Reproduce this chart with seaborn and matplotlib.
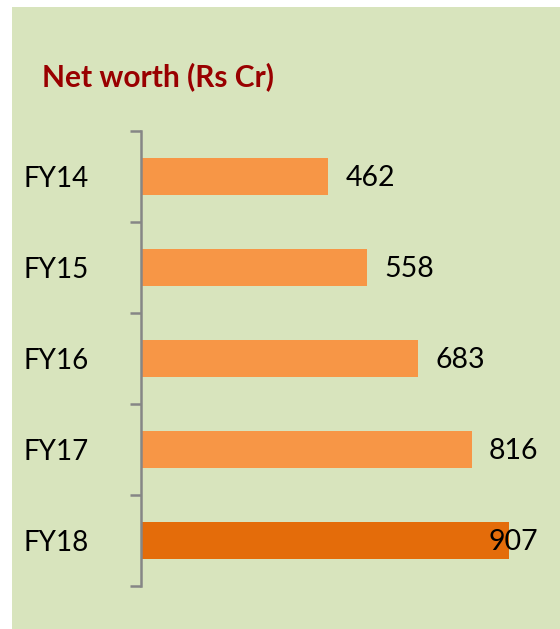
import matplotlib
matplotlib.use("Agg")
import matplotlib.pyplot as plt
from matplotlib.patches import Rectangle
import seaborn as sns
import pandas as pd

# Net worth by fiscal year (Rs Cr)
years = ["FY14", "FY15", "FY16", "FY17", "FY18"]
net_worth = [462, 558, 683, 816, 907]
bar_colors = ["#F79646", "#F79646", "#F79646", "#F79646", "#E46C0A"]
title = "Net worth (Rs Cr)"

df = pd.DataFrame({"year": years, "net_worth": net_worth})

sns.set_theme(style="white")
plt.rcParams["font.family"] = ["Lato", "DejaVu Sans"]

W, H = 560, 629
fig = plt.figure(figsize=(W / 100, H / 100), dpi=100, facecolor="white")

# light green panel behind the chart
fig.patches.append(Rectangle((12 / W, 0), 1 - 12 / W, 1 - 7 / H,
                             transform=fig.transFigure, facecolor="#D8E4BD",
                             edgecolor="none", zorder=-10))

xmax = 1000
ax = fig.add_axes([141 / W, 43 / H, 405.7 / W, 455 / H])
ax.set_facecolor("none")
ax.set_zorder(1)

sns.barplot(data=df, y="year", x="net_worth", hue="year", palette=bar_colors,
            orient="h", width=0.4, legend=False, ax=ax, saturation=1,
            linewidth=0)

ax.set_xlim(0, xmax)
ax.set_ylim(len(years) - 0.5, -0.5)
ax.set_xlabel("")
ax.set_ylabel("")
ax.set_xticks([])

for side in ["top", "right", "bottom"]:
    ax.spines[side].set_visible(False)
ax.spines["left"].set_color("#868686")
ax.spines["left"].set_linewidth(1.8)

# category labels, with tick marks between categories
ax.set_yticks(range(len(years)))
ax.set_yticklabels(years, fontsize=20, color="black")
ax.tick_params(axis="y", which="major", length=0, pad=37.5)
ax.set_yticks([i - 0.5 for i in range(len(years) + 1)], minor=True)
ax.tick_params(axis="y", which="minor", length=8, width=1.8, color="#868686",
               direction="out", left=True)

# value labels at bar ends, kept inside the plot area
px_per_unit = 405.7 / xmax
pad_units = 17 / px_per_unit
label_w_units = 47 / px_per_unit
edge = xmax - 9 / px_per_unit
for i, v in enumerate(net_worth):
    if v + pad_units + label_w_units > edge:
        ax.text(edge, i + 0.02, f"{v}", ha="right", va="center",
                fontsize=20.5, color="black", zorder=5)
    else:
        ax.text(v + pad_units, i + 0.02, f"{v}", ha="left", va="center",
                fontsize=20.5, color="black", zorder=5)

fig.text(42 / W, 1 - 86 / H, title, ha="left", va="baseline",
         fontsize=21.5, fontweight="bold", color="#990000")

fig.savefig("out.png", dpi=100, facecolor="white")
